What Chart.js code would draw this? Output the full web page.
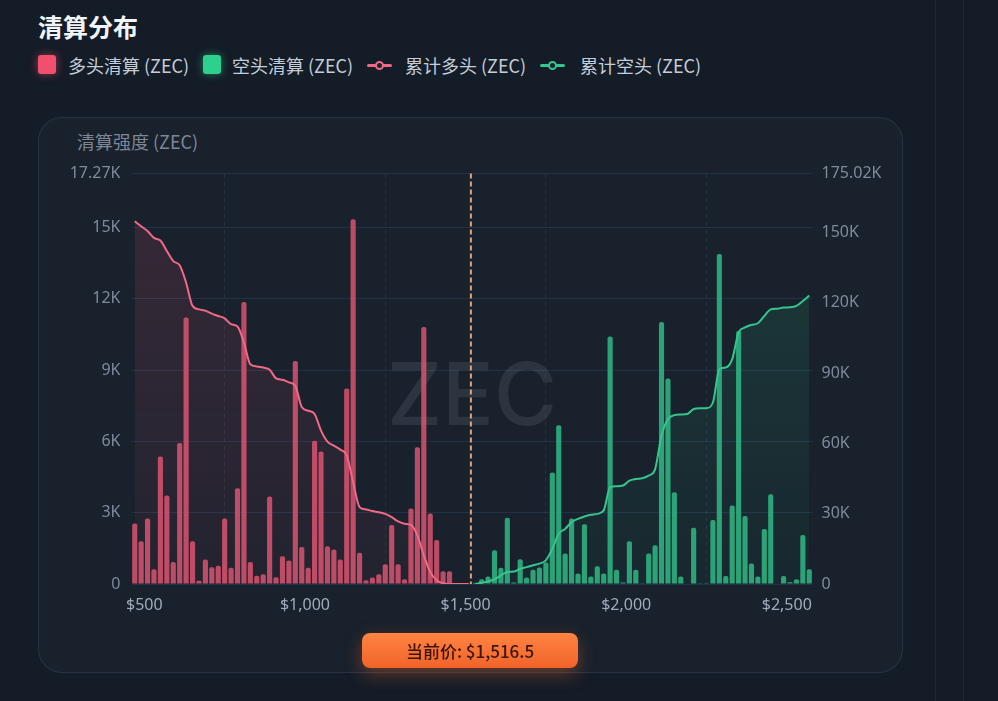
<!DOCTYPE html>
<html lang="zh">
<head>
<meta charset="UTF-8">
<title>清算分布</title>
<script src="https://cdn.jsdelivr.net/npm/chart.js"></script>
<style>
  body { margin:0; width:998px; height:701px; overflow:hidden; position:relative;
         background:#141c27; font-family:"Noto Sans","Noto Sans CJK SC",sans-serif; }
  .title { position:absolute; left:38px; top:8px; font-size:25px; font-weight:700; color:#f1f5f9;
           font-family:"Noto Sans CJK SC","Noto Sans",sans-serif; }
  .lg { position:absolute; top:52px; height:26px; line-height:26px; font-size:18px; color:#c5cdd8; white-space:nowrap;
        font-family:"Noto Sans CJK SC","Noto Sans",sans-serif; }
  .box { position:absolute; top:55px; width:18px; height:19px; border-radius:3px; }
  .ln { position:absolute; top:64px; width:25px; height:3px; border-radius:2px; }
  .ln i { position:absolute; left:8px; top:-3px; width:5px; height:5px; border-radius:50%; background:#1a2330; border:2px solid; }
  .card { position:absolute; left:38px; top:117px; width:863px; height:554px; border-radius:24px;
          background:#18212c; border:1px solid rgba(90,120,160,0.22); }
  .ytitle { position:absolute; left:77px; top:128px; font-size:18px; color:#7d8798;
            font-family:"Noto Sans CJK SC","Noto Sans",sans-serif; }
  #wrap { position:absolute; left:40px; top:153px; width:860px; height:477px; }
  .price { position:absolute; left:362px; top:633px; width:216px; height:35px; border-radius:8px;
           background:linear-gradient(180deg,#ff8442,#f0632a); box-shadow:0 6px 18px rgba(255,110,50,0.35);
           color:#3a1406; font-size:17px; font-weight:500; text-align:center; line-height:35px;
           font-family:"Noto Sans CJK SC","Noto Sans",sans-serif; }
  .vline { position:absolute; top:0; width:1px; height:701px; background:rgba(80,105,140,0.18); }
</style>
</head>
<body>

<div class="title">清算分布</div>
<span class="box" style="left:38px;background:#f0506e;box-shadow:0 0 8px rgba(240,80,110,0.55)"></span>
<span class="lg" style="left:68px">多头清算 (ZEC)</span>
<span class="box" style="left:203px;background:#2dd08f;box-shadow:0 0 8px rgba(45,208,143,0.55)"></span>
<span class="lg" style="left:232px">空头清算 (ZEC)</span>
<span class="ln" style="left:367px;background:#f06a88"><i style="border-color:#f06a88"></i></span>
<span class="lg" style="left:405px">累计多头 (ZEC)</span>
<span class="ln" style="left:540px;background:#35c68e"><i style="border-color:#35c68e"></i></span>
<span class="lg" style="left:580px">累计空头 (ZEC)</span>

<div class="vline" style="left:935px"></div>
<div class="vline" style="left:963px"></div>

<div class="card"></div>
<div class="ytitle">清算强度 (ZEC)</div>
<div id="wrap"><canvas id="myChart"></canvas></div>
<div class="price">当前价: $1,516.5</div>

<script>
// price bins ($20 each)
const priceBins = [
  470,490,510,530,550,570,590,610,630,650,
  670,690,710,730,750,770,790,810,830,850,
  870,890,910,930,950,970,990,1010,1030,1050,
  1070,1090,1110,1130,1150,1170,1190,1210,1230,1250,
  1270,1290,1310,1330,1350,1370,1390,1410,1430,1450,
  1470,1490,1510,1530,1550,1570,1590,1610,1630,1650,
  1670,1690,1710,1730,1750,1770,1790,1810,1830,1850,
  1870,1890,1910,1930,1950,1970,1990,2010,2030,2050,
  2070,2090,2110,2130,2150,2170,2190,2210,2230,2250,
  2270,2290,2310,2330,2350,2370,2390,2410,2430,2450,
  2470,2490,2510,2530,2550,2570
];

// long liquidations (below current price)
const longLiq = [
  2550,1800,2760,620,5370,3720,930,5930,11210,1800,
  140,1030,700,770,2760,680,4030,11870,930,350,
  410,3680,280,1170,990,9380,1560,680,6030,5580,
  1590,1450,1030,8230,15350,1310,155,270,410,830,
  2480,830,200,3180,5750,10820,2970,1850,540,540
];

// short liquidations, starting at bin index 53
const shortStart = 53;
const shortLiq = [
  50,200,320,1420,680,2790,60,1040,270,600,
  690,900,4690,6680,1280,2760,440,2510,320,750,
  440,10410,600,60,1800,600,30,1280,1630,11030,
  8650,3860,320,20,2370,30,10,2690,13890,340,
  3300,10650,2860,860,320,2310,3780,0,340,70,
  200,2060,620
];

// cumulative lines (right axis)
const longCum = [
  154700,152600,150500,147600,146500,142000,137700,135900,128500,118600,
  117100,116500,115300,114300,113300,110800,109800,103000,93700,92800,
  92300,91400,87700,87100,86000,84500,75500,73900,72500,65400,
  60700,59000,57300,54800,43400,32800,31800,31100,30600,29900,
  28500,26700,25700,25200,20700,12200,5100,1600,300,0,
  0,0,0
];
const shortCum = [
  0,500,1100,2000,3700,5100,5300,6500,7200,8000,
  8700,10100,15000,21400,23500,26400,27800,28800,29500,29900,
  31400,41300,41700,42000,44100,44800,45100,46200,49000,63300,
  70300,72000,72300,72500,74600,74900,75000,77400,91600,92300,
  95900,107200,109400,110500,111200,114300,117100,117400,117900,118000,
  118600,120700,123000
];

const currentPrice = 1516.5;
const xTicks = [500, 1000, 1500, 2000, 2500];
const leftTicks = [0, 3000, 6000, 9000, 12000, 15000, 17270];
const rightTicks = [0, 30000, 60000, 90000, 120000, 150000, 175020];

const longBars = longLiq.map((v, i) => ({ x: priceBins[i], y: v }));
const shortBars = shortLiq.map((v, i) => ({ x: priceBins[shortStart + i], y: v }));
const longLine = longCum.map((v, i) => ({ x: priceBins[i], y: v }));
const shortLine = shortCum.map((v, i) => ({ x: priceBins[shortStart + i], y: v }));

function fmtK(v) {
  if (v >= 1000) return +(v / 1000).toFixed(2) + 'K';
  return v;
}

function grad(rgb, a1, a2) {
  return function (ctx) {
    const area = ctx.chart.chartArea;
    if (!area) return 'transparent';
    const g = ctx.chart.ctx.createLinearGradient(0, area.top, 0, area.bottom);
    g.addColorStop(0, 'rgba(' + rgb + ',' + a1 + ')');
    g.addColorStop(1, 'rgba(' + rgb + ',' + a2 + ')');
    return g;
  };
}

const watermark = {
  id: 'watermark',
  beforeDatasetsDraw(chart) {
    const a = chart.chartArea, c = chart.ctx;
    c.save();
    c.font = '500 86px Inter, "Noto Sans", sans-serif';
    c.fillStyle = 'rgba(255,255,255,0.09)';
    c.textAlign = 'center';
    c.textBaseline = 'middle';
    c.fillText('ZEC', (a.left + a.right) / 2, a.top + (a.bottom - a.top) * 0.55);
    c.restore();
  }
};

const priceLine = {
  id: 'priceLine',
  afterDatasetsDraw(chart) {
    const a = chart.chartArea, c = chart.ctx;
    const x = chart.scales.x.getPixelForValue(currentPrice);
    c.save();
    c.strokeStyle = '#e3a27c';
    c.lineWidth = 2;
    c.setLineDash([5, 3]);
    c.beginPath();
    c.moveTo(x, a.top);
    c.lineTo(x, a.bottom);
    c.stroke();
    c.restore();
  }
};

const ctx = document.getElementById('myChart').getContext('2d');
new Chart(ctx, {
  type: 'bar',
  data: {
    datasets: [
      {
        type: 'line', label: '累计多头 (ZEC)', data: longLine, yAxisID: 'y2', order: 0,
        borderColor: '#f06a88', borderWidth: 2, pointRadius: 0, cubicInterpolationMode: 'monotone',
        fill: 'origin', backgroundColor: grad('240,90,125', 0.15, 0.05)
      },
      {
        type: 'line', label: '累计空头 (ZEC)', data: shortLine, yAxisID: 'y2', order: 0,
        borderColor: '#35c68e', borderWidth: 2, pointRadius: 0, cubicInterpolationMode: 'monotone',
        fill: 'origin', backgroundColor: grad('50,200,140', 0.16, 0.04)
      },
      {
        label: '多头清算 (ZEC)', data: longBars, yAxisID: 'y', order: 1, grouped: false,
        backgroundColor: 'rgba(225,85,115,0.82)', borderRadius: 2,
        barPercentage: 0.8, categoryPercentage: 1
      },
      {
        label: '空头清算 (ZEC)', data: shortBars, yAxisID: 'y', order: 1, grouped: false,
        backgroundColor: 'rgba(48,190,135,0.82)', borderRadius: 2,
        barPercentage: 0.8, categoryPercentage: 1
      }
    ]
  },
  options: {
    responsive: true,
    maintainAspectRatio: false,
    animation: false,
    layout: { padding: { top: 6 } },
    plugins: { legend: { display: false }, tooltip: { enabled: false } },
    scales: {
      x: {
        type: 'linear', min: 460, max: 2580, offset: false,
        afterBuildTicks: s => { s.ticks = xTicks.map(v => ({ value: v })); },
        afterFit: s => { s.height = 46; },
        ticks: {
          color: '#a0aabb', padding: 12, maxRotation: 0,
          font: { size: 16, family: '"Noto Sans", sans-serif' },
          callback: v => '$' + v.toLocaleString('en-US')
        },
        grid: { color: 'rgba(80,110,150,0.2)', drawTicks: false },
        border: { display: false, dash: [4, 4] }
      },
      y: {
        position: 'left', min: 0, max: leftTicks[leftTicks.length - 1],
        afterBuildTicks: s => { s.ticks = leftTicks.map(v => ({ value: v })); },
        afterFit: s => { s.width = 91.5; },
        ticks: { color: '#7f8a9b', padding: 11,
                 font: { size: 16, family: '"Noto Sans", sans-serif' }, callback: fmtK },
        grid: { color: 'rgba(60,95,140,0.28)', drawTicks: false },
        border: { display: false }
      },
      y2: {
        position: 'right', min: 0, max: rightTicks[rightTicks.length - 1],
        afterBuildTicks: s => { s.ticks = rightTicks.map(v => ({ value: v })); },
        afterFit: s => { s.width = 87.5; },
        ticks: { color: '#7f8a9b', padding: 9,
                 font: { size: 16, family: '"Noto Sans", sans-serif' }, callback: fmtK },
        grid: { display: false, drawTicks: false },
        border: { display: false }
      }
    }
  },
  plugins: [watermark, priceLine]
});
</script>

</body>
</html>
